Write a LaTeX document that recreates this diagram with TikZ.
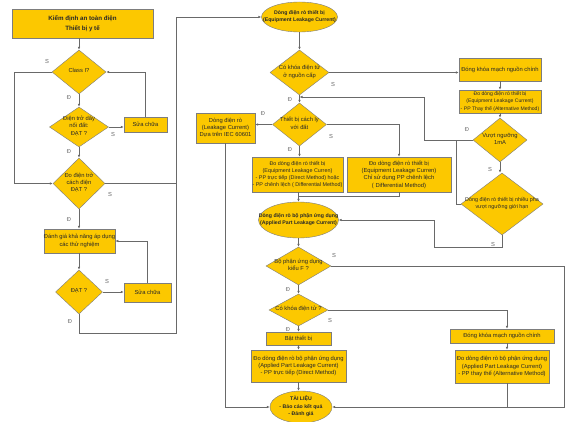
\documentclass[tikz,border=0pt]{standalone}
\usepackage{fontspec}
\setmainfont{Liberation Sans}
\usetikzlibrary{shapes.geometric,arrows.meta}
\definecolor{boxyellow}{RGB}{252,200,0}
\definecolor{edgegray}{RGB}{125,125,125}
\definecolor{linegray}{RGB}{105,105,105}
\definecolor{txtgray}{RGB}{40,40,40}
\newcommand{\flowtext}[1]{\smash{\makebox[0pt]{\raisebox{-1pt}{\begin{tabular}{@{}c@{}}#1\end{tabular}}}}}
\newcommand{\bodyfont}{\fontsize{5.8}{7.3}\selectfont}
\newcommand{\narrowfont}{\fontsize{5.4}{7.3}\selectfont}
\newcommand{\altfont}{\fontsize{5.1}{7.2}\selectfont}
\newcommand{\titlefont}{\fontsize{6.2}{10}\selectfont\bfseries}
\newcommand{\termfont}{\fontsize{5.2}{7.2}\selectfont\bfseries}
\tikzset{
  box/.style={rectangle, draw=edgegray, fill=boxyellow, inner sep=0pt, align=center, font=\bodyfont, text=txtgray},
  decision/.style={diamond, draw=edgegray, fill=boxyellow, inner sep=0pt, font=\bodyfont, text=txtgray},
  terminal/.style={ellipse, draw=edgegray, fill=boxyellow, inner sep=0pt, font=\termfont, text=txtgray},
  flowline/.style={draw=linegray, line width=0.8pt},
  flowarrow/.style={flowline, -{Latex[length=3pt,width=2.6pt]}},
  answer/.style={font=\bodyfont, text=linegray, inner sep=0pt},
}
\begin{document}
\begin{tikzpicture}[x=1pt,y=-1pt]
\useasboundingbox[fill=white] (0,0) rectangle (576,422);
% left column: checks
\node[box, minimum width=141pt, minimum height=29pt, font=\titlefont] (title) at (82.5,23.5) {Kiểm định an toàn điện\\Thiết bị y tế};
\node[decision, minimum width=54pt, minimum height=44pt] (class) at (79,72) {\flowtext{Class I?}};
\node[decision, minimum width=59pt, minimum height=40pt] (ground) at (79,127) {\flowtext{Điện trở dây\\nối đất:\\ĐẠT ?}};
\node[box, minimum width=43pt, minimum height=15pt] (fix1) at (145.5,124.5) {Sửa chữa};
\node[decision, minimum width=52pt, minimum height=51pt] (insul) at (79,183.5) {\flowtext{Đo điện trở\\cách điện\\ĐẠT ?}};
\node[box, minimum width=71pt, minimum height=24pt] (eval) at (79.5,241) {Đánh giá khả năng áp dụng\\các thử nghiệm};
\node[decision, minimum width=47pt, minimum height=44pt] (pass) at (79,292) {\flowtext{ĐẠT ?}};
\node[box, minimum width=47pt, minimum height=19pt] (fix2) at (147.5,292.5) {Sửa chữa};

% equipment leakage
\node[terminal, minimum width=76pt, minimum height=30pt] (eqleak) at (299.5,17) {\flowtext{Dòng điện rò thiết bị\\(Equipment Leakage Current)}};
\node[decision, minimum width=59pt, minimum height=45pt] (lock1) at (299.5,72.5) {\flowtext{Có khóa điện tử\\ở nguồn cấp}};
\node[decision, minimum width=54pt, minimum height=43pt] (isol) at (299.5,124.5) {\flowtext{Thiết bị cách ly\\với đất}};
\node[box, minimum width=59pt, minimum height=30pt] (iec) at (225.5,128) {Dòng điện rò\\(Leakage Current)\\Dựa trên IEC 60601};
\node[box, minimum width=91pt, minimum height=35pt, font=\narrowfont] (direct) at (297.5,174.5) {Đo dòng điện rò thiết bị\\(Equipment Leakage Curren)\\- PP trực tiếp (Direct Method) hoặc\\- PP chênh lệch ( Differential Method)};
\node[box, minimum width=104pt, minimum height=35pt] (diff) at (399,174.5) {Đo dòng điện rò thiết bị\\(Equipment Leakage Curren)\\Chỉ sử dụng PP chênh lệch\\( Differential Method)};
\node[box, minimum width=82pt, minimum height=23pt] (mains1) at (500,69.5) {Đóng khóa mạch nguồn chính};
\node[box, minimum width=82pt, minimum height=23pt, font=\altfont] (alt) at (500,101.5) {Đo dòng điện rò thiết bị\\(Equipment Leakage Current)\\- PP Thay thế (Alternative Method)};
\node[decision, minimum width=54pt, minimum height=44pt] (limit) at (500,140) {\flowtext{Vượt ngưỡng\\1mA}};
\node[decision, minimum width=82pt, minimum height=62pt, font=\narrowfont] (multi) at (502,204) {\flowtext{Dòng điện rò thiết bị nhiều pha\\vượt ngưỡng giới hạn}};

% applied part leakage
\node[terminal, minimum width=80pt, minimum height=36pt] (apleak) at (298.5,220) {\flowtext{Dòng điện rò bộ phận ứng dụng\\(Applied Part Leakage Current)}};
\node[decision, minimum width=65pt, minimum height=38pt] (typef) at (298.5,266) {\flowtext{Bộ phận ứng dụng\\kiểu F ?}};
\node[decision, minimum width=59pt, minimum height=32pt] (lock2) at (298.5,310) {\flowtext{Có khóa điện tử ?}};
\node[box, minimum width=65pt, minimum height=13pt] (power) at (298.5,338.5) {Bật thiết bị};
\node[box, minimum width=95pt, minimum height=32pt] (apdirect) at (298.5,366) {Đo dòng điện rò bộ phận ứng dụng\\(Applied Part Leakage Current)\\- PP trực tiếp (Direct Method)};
\node[box, minimum width=104pt, minimum height=14pt] (mains2) at (502,336) {Đóng khóa mạch nguồn chính};
\node[box, minimum width=94pt, minimum height=33pt] (apalt) at (502,366.5) {Đo dòng điện rò bộ phận ứng dụng\\(Applied Part Leakage Current)\\- PP thay thế (Alternative Method)};
\node[terminal, minimum width=62pt, minimum height=32pt] (report) at (301,407) {\flowtext{TÀI LIỆU\\- Báo cáo kết quả\\- Đánh giá}};

\coordinate (bus) at (176,333);
\coordinate (retA) at (299.5,97);
\coordinate (jm) at (456,140);
\coordinate (retB) at (434,247);
\coordinate (jd) at (298.5,196);
\coordinate (retC) at (564,266);

% left column connectors
\draw[flowarrow] (class.north |- title.south) -- (class.north);
\draw[flowarrow] (class.south) -- (ground.north);
\draw[flowarrow] (class.west) -- ++(-37,0) |- (insul.west);
\draw[flowarrow] (ground.east) -- (ground.east -| fix1.west);
\draw[flowarrow] (fix1.north) |- (class.east);
\draw[flowarrow] (ground.south) -- (insul.north);
\draw[flowline] (insul.east) -- (insul.east -| bus);
\draw[flowarrow] (insul.south) -- (insul.south |- eval.north);
\draw[flowarrow] (pass.north |- eval.south) -- (pass.north);
\draw[flowarrow] (pass.east) -- (pass.east -| fix2.west);
\draw[flowarrow] (fix2.north) |- (eval.east);
\draw[flowarrow] (pass.south) |- (bus) |- (eqleak.west);

% equipment leakage connectors
\draw[flowarrow] (eqleak.south) -- (lock1.north);
\draw[flowarrow] (lock1.east) -- (lock1.east -| mains1.west);
\draw[flowarrow] (lock1.south) -- (isol.north);
\draw[flowarrow] (mains1.south) -- (alt.north);
\draw[flowarrow] (alt.south) -- (limit.north);
\draw[flowarrow] (limit.west) -- ++(-48,0) |- (retA);
\draw[flowline] (multi.west) -| (jm);
\draw[flowarrow] (limit.south) -- (limit.south |- multi.north);
\draw[flowarrow] (multi.south) |- (retB) |- (apleak.east);
\draw[flowarrow] (isol.west) -- (isol.west -| iec.east);
\draw[flowarrow] (isol.east) -| (diff.north);
\draw[flowarrow] (isol.south) -- (isol.south |- direct.north);
\draw[flowarrow] (iec.south) |- (report.west);
\draw[flowarrow] (apleak.north |- direct.south) -- (apleak.north);
\draw[flowline] (diff.south) |- (jd);

% applied part connectors
\draw[flowarrow] (apleak.south) -- (typef.north);
\draw[flowarrow] (typef.east) -- (retC) |- (report.east);
\draw[flowarrow] (typef.south) -- (lock2.north);
\draw[flowarrow] (lock2.east) -| ([xshift=5pt]mains2.north);
\draw[flowarrow] ([xshift=5pt]mains2.south) -- ([xshift=5pt]apalt.north);
\draw[flowline] ([xshift=5pt]apalt.south) -- ([xshift=5pt]apalt.south |- report.east);
\draw[flowarrow] (lock2.south) -- (power.north);
\draw[flowarrow] (power.south) -- (apdirect.north);
\draw[flowarrow] (apdirect.south) -- (apdirect.south |- report.north);

% answers
\node[answer] (s1) at (47,62) {S};
\node[answer] (d1) at (69,98) {Đ};
\node[answer] (s2) at (113,135) {S};
\node[answer] (d2) at (69,152) {Đ};
\node[answer] (s3) at (110,195) {S};
\node[answer] (d3) at (69,220) {Đ};
\node[answer] (s4) at (107,282) {S};
\node[answer] (d4) at (70,322) {Đ};
\node[answer] (s5) at (333,85) {S};
\node[answer] (d5) at (290,100) {Đ};
\node[answer] (d6) at (263,114) {Đ};
\node[answer] (s6) at (331,137) {S};
\node[answer] (d7) at (290,150) {Đ};
\node[answer] (d8) at (467,130) {Đ};
\node[answer] (s7) at (490,170) {S};
\node[answer] (s8) at (493,245) {S};
\node[answer] (s9) at (334,256) {S};
\node[answer] (d9) at (288,290) {Đ};
\node[answer] (s10) at (330,321) {S};
\node[answer] (d10) at (288,330) {Đ};
\end{tikzpicture}
\end{document}
